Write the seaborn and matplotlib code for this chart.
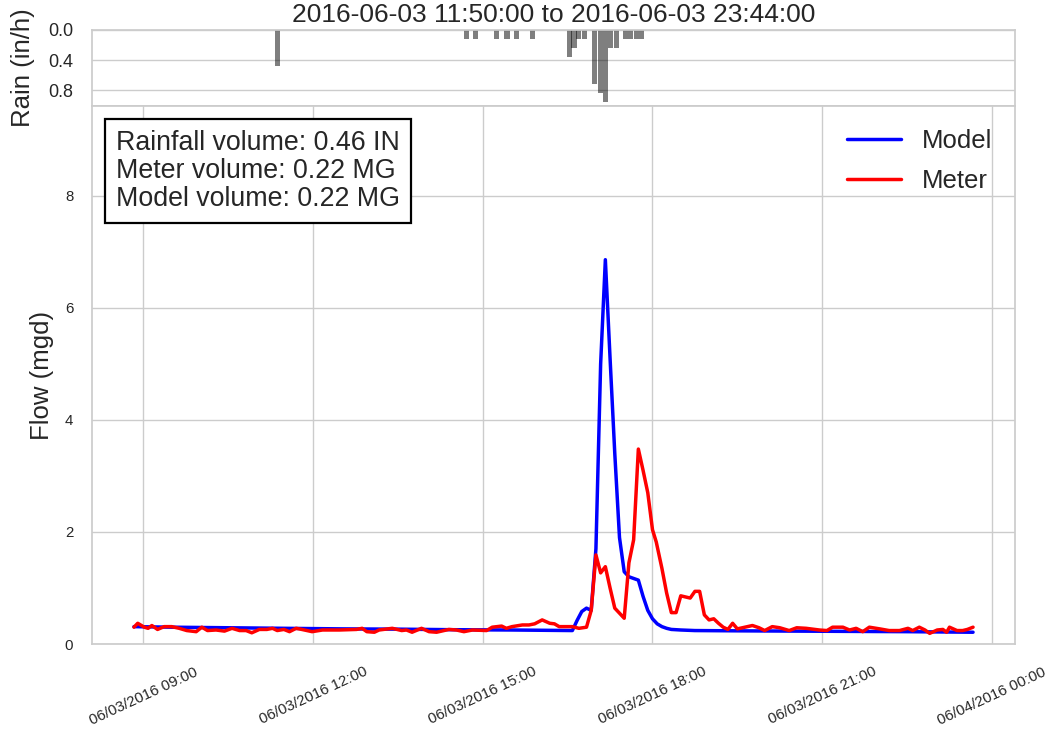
import matplotlib
matplotlib.use("Agg")
import matplotlib.pyplot as plt
import matplotlib.dates as mdates
from matplotlib.offsetbox import AnchoredText
import seaborn as sns
import pandas as pd

# ---------------- data ----------------
DAY = "2016-06-03 "

title_text = "2016-06-03 11:50:00 to 2016-06-03 23:44:00"
stats_lines = ["Rainfall volume: 0.46 IN", "Meter volume: 0.22 MG", "Model volume: 0.22 MG"]

model_time = ["08:50", "09:30", "10:30", "11:30", "12:30", "13:30", "14:30", "15:30",
              "16:35", "16:40", "16:45", "16:50", "16:55", "17:00", "17:05", "17:10",
              "17:15", "17:20", "17:25", "17:30", "17:35", "17:40", "17:45", "17:50",
              "17:55", "18:00", "18:05", "18:10", "18:15", "18:20", "18:30", "18:45",
              "19:30", "20:30", "21:30", "22:30", "23:40"]
model_flow = [0.31, 0.30, 0.29, 0.28, 0.27, 0.265, 0.255, 0.25,
              0.24, 0.42, 0.58, 0.64, 0.60, 1.70, 5.00, 6.86,
              5.10, 3.40, 1.90, 1.29, 1.20, 1.17, 1.14, 0.85,
              0.60, 0.45, 0.36, 0.31, 0.28, 0.26, 0.25, 0.24,
              0.235, 0.23, 0.225, 0.22, 0.21]

meter_time = ["08:50", "08:54", "09:01", "09:05", "09:09", "09:15", "09:22", "09:30",
              "09:38", "09:46", "09:56", "10:02", "10:08", "10:17", "10:26", "10:34",
              "10:42", "10:49", "10:55", "11:03", "11:11", "11:17", "11:22", "11:29",
              "11:35", "11:42", "11:48", "11:59", "12:10", "12:28", "12:46", "12:52",
              "12:57", "13:05", "13:10", "13:24", "13:34", "13:39", "13:45", "13:55",
              "14:03", "14:11", "14:24", "14:32", "14:40", "14:49", "15:04", "15:10",
              "15:20", "15:25", "15:31", "15:42", "15:49", "15:55", "16:03", "16:11",
              "16:16", "16:21", "16:29", "16:35", "16:42", "16:50", "16:55", "17:00",
              "17:05", "17:10", "17:15", "17:20", "17:25", "17:30", "17:35", "17:40",
              "17:45", "17:50", "17:55", "18:00", "18:04", "18:10", "18:15", "18:20",
              "18:25", "18:30", "18:35", "18:40", "18:45", "18:50", "18:55", "19:00",
              "19:05", "19:10", "19:15", "19:20", "19:25", "19:30", "19:46", "19:53",
              "19:59", "20:07", "20:15", "20:25", "20:33", "20:43", "20:57", "21:05",
              "21:11", "21:22", "21:29", "21:36", "21:43", "21:50", "22:01", "22:11",
              "22:22", "22:31", "22:36", "22:43", "22:49", "22:54", "23:02", "23:08",
              "23:12", "23:15", "23:23", "23:29", "23:34", "23:40"]
meter_flow = [0.30, 0.37, 0.30, 0.28, 0.33, 0.26, 0.31, 0.31,
              0.28, 0.24, 0.22, 0.30, 0.24, 0.25, 0.23, 0.28,
              0.24, 0.24, 0.20, 0.26, 0.26, 0.28, 0.24, 0.26,
              0.22, 0.28, 0.26, 0.22, 0.25, 0.25, 0.26, 0.28,
              0.22, 0.21, 0.25, 0.28, 0.24, 0.25, 0.21, 0.28,
              0.22, 0.21, 0.26, 0.25, 0.22, 0.25, 0.24, 0.30,
              0.32, 0.28, 0.31, 0.34, 0.34, 0.36, 0.43, 0.37,
              0.36, 0.31, 0.31, 0.31, 0.28, 0.30, 0.60, 1.59,
              1.27, 1.38, 1.00, 0.64, 0.55, 0.46, 1.45, 1.86,
              3.48, 3.10, 2.70, 2.04, 1.82, 1.35, 0.91, 0.56,
              0.56, 0.86, 0.84, 0.82, 0.94, 0.94, 0.52, 0.43,
              0.45, 0.37, 0.30, 0.26, 0.37, 0.27, 0.33, 0.29,
              0.24, 0.31, 0.29, 0.24, 0.29, 0.28, 0.25, 0.24,
              0.30, 0.30, 0.25, 0.28, 0.22, 0.30, 0.27, 0.24,
              0.24, 0.28, 0.24, 0.30, 0.25, 0.19, 0.25, 0.26,
              0.21, 0.30, 0.24, 0.24, 0.26, 0.30]

rain_time = ["11:20", "14:40", "14:50", "15:12", "15:23", "15:33", "15:50", "16:29",
             "16:34", "16:39", "16:45", "16:56", "17:02", "17:07", "17:13", "17:19",
             "17:29", "17:34", "17:40", "17:46"]
rain_rate = [0.48, 0.12, 0.12, 0.12, 0.12, 0.12, 0.12, 0.36,
             0.24, 0.12, 0.12, 0.72, 0.84, 0.96, 0.24, 0.24,
             0.12, 0.12, 0.12, 0.12]

rain_ticks = [0.0, 0.4, 0.8]
flow_ticks = [0, 2, 4, 6, 8]

# ---------------- style ----------------
sns.set_theme(style="whitegrid")
plt.rcParams["font.family"] = ["Liberation Sans", "DejaVu Sans"]

BIG = 18.5

def to_dt(lst):
    return pd.to_datetime([DAY + t for t in lst])

model_df = pd.DataFrame({"time": to_dt(model_time), "flow": model_flow})
meter_df = pd.DataFrame({"time": to_dt(meter_time), "flow": meter_flow})
rain_df = pd.DataFrame({"time": to_dt(rain_time), "rate": rain_rate})

W, H = 1055, 732
fig = plt.figure(figsize=(W / 100, H / 100), dpi=100)
L, R = 92, 1015
ax_r = fig.add_axes([L / W, 1 - 106 / H, (R - L) / W, 76 / H])
ax = fig.add_axes([L / W, 1 - 644 / H, (R - L) / W, 538 / H], sharex=ax_r)

# lines
sns.lineplot(data=model_df, x="time", y="flow", ax=ax, color="blue", lw=2.5, label="Model")
sns.lineplot(data=meter_df, x="time", y="flow", ax=ax, color="red", lw=2.5, label="Meter")

# rain bars
ax_r.bar(mdates.date2num(rain_df["time"]), rain_df["rate"], width=5.4 / 1440,
         align="edge", color="black", alpha=0.5, linewidth=0)

# rain axis
ax_r.set_ylim(max(rain_rate) * 1.05, 0)
ax_r.set_yticks(rain_ticks)
ax_r.set_yticklabels([f"{v:.1f}" for v in rain_ticks])
ax_r.grid(axis="x", visible=False)
ax_r.tick_params(axis="x", labelbottom=False, length=0)
ax_r.tick_params(axis="y", labelsize=13, length=0, pad=13.5)
ax_r.set_ylabel("Rain (in/h)", fontsize=BIG)
ax_r.yaxis.set_label_coords((35 - L) / (R - L), 0.5)
ax_r.set_title(title_text, fontsize=19, pad=6)
ax_r.set_xlabel("")

# main axis
ax.set_ylim(0, max(max(model_flow), max(meter_flow)) * 1.4)
ax.set_yticks(flow_ticks)
ax.xaxis.set_major_locator(mdates.HourLocator(byhour=[0, 3, 6, 9, 12, 15, 18, 21]))
ax.xaxis.set_major_formatter(mdates.DateFormatter("%m/%d/%Y %H:%M"))
ax.tick_params(axis="x", labelsize=10.8, labelrotation=25, length=0, pad=15)
ax.tick_params(axis="y", labelsize=10.8, length=0, pad=13.5)
ax.set_xlabel("")
ax.set_ylabel("Flow (mgd)", fontsize=BIG)
ax.yaxis.set_label_coords((54 - L) / (R - L), 0.5)

ax.legend(loc="upper right", frameon=False, fontsize=BIG, handlelength=2.1,
          labelspacing=0.6)

at = AnchoredText("\n".join(stats_lines), loc="upper left",
                  prop=dict(size=19.3, linespacing=1.1),
                  frameon=True, pad=0.4, borderpad=0.5)
at.patch.set_boxstyle("square,pad=0")
at.patch.set_edgecolor("black")
at.patch.set_linewidth(1.6)
ax.add_artist(at)

fig.savefig("out.png", dpi=100)
